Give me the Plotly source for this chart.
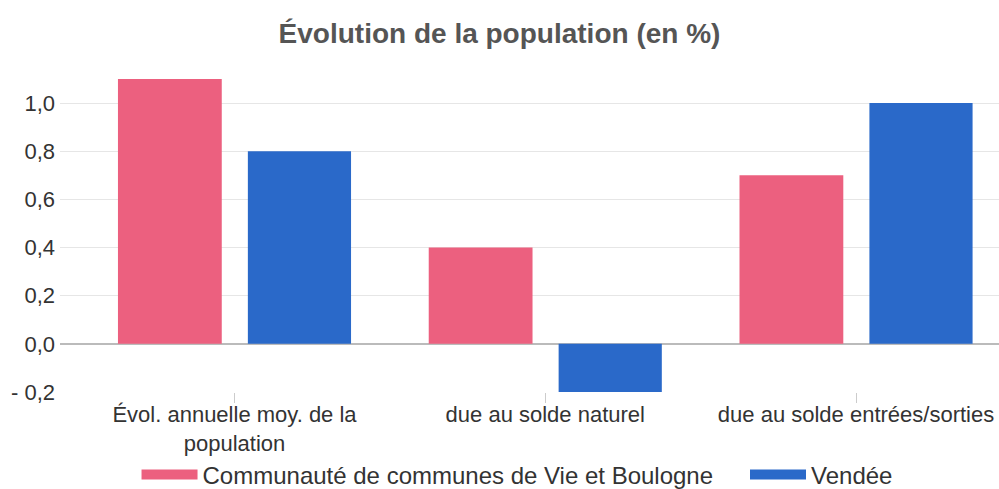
import plotly.graph_objects as go

categories = ["Évol. annuelle moy. de la<br>population", "due au solde naturel", "due au solde entrées/sorties"]
series_names = ["Communauté de communes de Vie et Boulogne", "Vendée"]
values_cc = [1.1, 0.4, 0.7]
values_vendee = [0.8, -0.2, 1.0]
tick_vals = [-0.2, 0.0, 0.2, 0.4, 0.6, 0.8, 1.0]
tick_text = ["- 0,2", "0,0", "0,2", "0,4", "0,6", "0,8", "1,0"]

colors = ["#ec607f", "#2a69c9"]
font = "Liberation Sans, Arial, sans-serif"

fig = go.Figure()
fig.add_trace(go.Bar(x=categories, y=values_cc, name=series_names[0],
                     marker=dict(color=colors[0], line=dict(width=0)),
                     width=0.334, offset=-0.375, showlegend=False))
fig.add_trace(go.Bar(x=categories, y=values_vendee, name=series_names[1],
                     marker=dict(color=colors[1], line=dict(width=0)),
                     width=0.332, offset=0.043, showlegend=False))
# legend entries (swatches) for the two series, each in its own legend box
for name, col, lg in zip(series_names, colors, ["legend", "legend2"]):
    fig.add_trace(go.Scatter(x=[None], y=[None], mode="lines", name=name,
                             line=dict(color=col, width=20), showlegend=True,
                             legend=lg, hoverinfo="skip"))

legend_common = dict(orientation="h", xanchor="left", y=-0.255, yanchor="middle",
                     font=dict(family=font, size=24, color="#333333"),
                     itemwidth=56, bgcolor="rgba(0,0,0,0)")

fig.update_layout(
    width=999, height=489,
    margin=dict(l=60, r=0, t=67, b=97, pad=0, autoexpand=False),
    paper_bgcolor="white", plot_bgcolor="white",
    barmode="overlay",
    title=dict(text="<b>Évolution de la population (en %)</b>", x=0.5, xanchor="center",
               y=1 - 33 / 489, yanchor="middle", yref="container",
               font=dict(family=font, size=28, color="#555555")),
    font=dict(family=font, size=22, color="#333333"),
    showlegend=True,
    legend=dict(x=0.0815, **legend_common),
    legend2=dict(x=0.7295, **legend_common),
    xaxis=dict(range=[-0.5615, 2.460], showgrid=False, showline=False, zeroline=False,
               ticks="outside", ticklen=10, tickcolor="#cccccc", tickwidth=1,
               ticklabelstandoff=-7,
               tickfont=dict(family=font, size=22, color="#333333")),
    yaxis=dict(range=[-0.2, 1.15], tickvals=tick_vals, ticktext=tick_text,
               showgrid=True, gridcolor="#e6e6e6", gridwidth=1,
               zeroline=True, zerolinecolor="#bbbbbb", zerolinewidth=2,
               showline=False, ticks="", ticklabelstandoff=4,
               tickfont=dict(family=font, size=22, color="#333333")),
)

fig.write_html("out.html", config={"displayModeBar": False},
               post_script="document.body.style.margin='0';document.body.style.overflow='hidden';")
